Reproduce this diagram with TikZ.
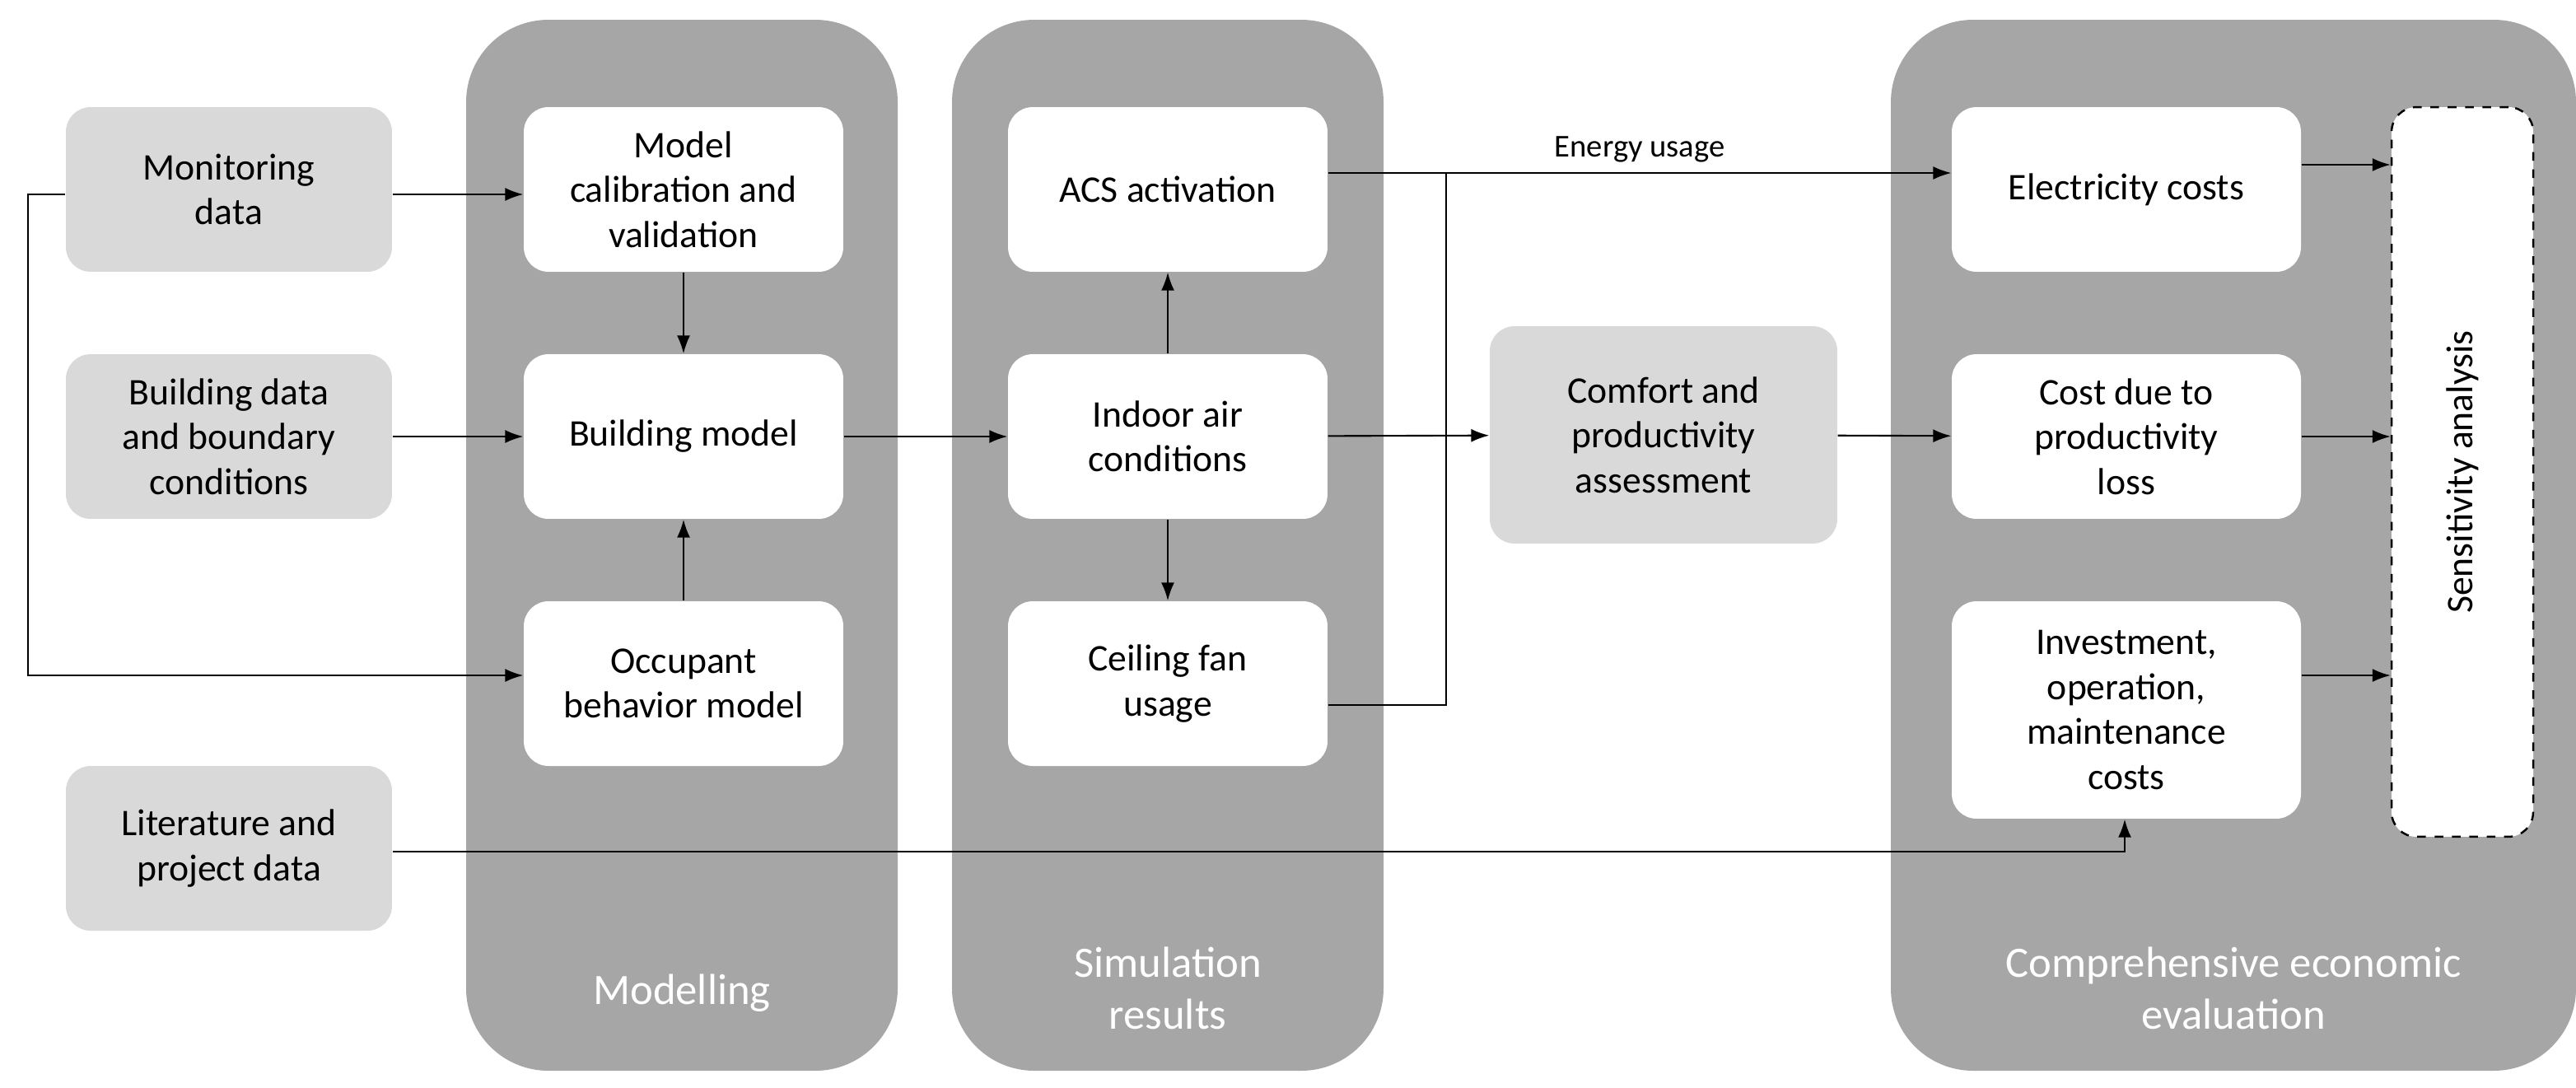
\documentclass[tikz,border=0pt]{standalone}
\usepackage{fontspec}
\setmainfont{Carlito}
\usetikzlibrary{arrows.meta}
\definecolor{lg}{HTML}{D9D9D9}
\definecolor{dg}{HTML}{A6A6A6}
\begin{document}
\begin{tikzpicture}[x=0.02cm,y=-0.02cm,
 col/.style={fill=dg,draw=none,rounded corners=1cm},
 inb/.style={fill=lg,rounded corners=0.3cm,align=center,font=\fontsize{13}{15.5}\selectfont},
 wb/.style={fill=white,rounded corners=0.3cm,align=center,font=\fontsize{13}{15.5}\selectfont},
 lab/.style={text=white,align=center,font=\fontsize{15}{18}\selectfont},
 ar/.style={-{Latex[length=2.2mm,width=1.6mm]},line width=0.6pt}]
\useasboundingbox (0,0) rectangle (1564,660);
\fill[col] (283,12) rectangle (545,650);
\fill[col] (578,12) rectangle (840,650);
\fill[col] (1148,12) rectangle (1564,650);
\node[lab] at (414,603) {Modelling};
\node[lab] at (709,600) {Simulation\\results};
\node[lab] at (1356,600) {Comprehensive economic\\evaluation};
\newcommand{\bx}[6]{\node[#1,minimum width=#4*0.02cm-0.02cm,minimum height=#5*0.02cm] (#6) at (#2,#3) {};}
% inputs
\node[inb,minimum width=3.96cm,minimum height=2cm] (mon) at (139,115) {Monitoring\\data};
\node[inb,minimum width=3.96cm,minimum height=2cm] (bd) at (139,265) {Building data\\and boundary\\conditions};
\node[inb,minimum width=3.96cm,minimum height=2cm] (lit) at (139,515) {Literature and\\project data};
% modelling
\node[wb,minimum width=3.88cm,minimum height=2cm] (cal) at (415,115) {Model\\calibration and\\validation};
\node[wb,minimum width=3.88cm,minimum height=2cm] (bm) at (415,265) {Building model};
\node[wb,minimum width=3.88cm,minimum height=2cm] (occ) at (415,415) {Occupant\\behavior model};
% sim
\node[wb,minimum width=3.88cm,minimum height=2cm] (acs) at (709,115) {ACS activation};
\node[wb,minimum width=3.88cm,minimum height=2cm] (ind) at (709,265) {Indoor air\\conditions};
\node[wb,minimum width=3.88cm,minimum height=2cm] (fan) at (709,415) {Ceiling fan\\usage};
% comfort
\node[inb,minimum width=4.22cm,minimum height=2.64cm] (com) at (1010,264) {Comfort and\\productivity\\assessment};
% econ
\node[wb,minimum width=4.24cm,minimum height=2cm] (ele) at (1291,115) {Electricity costs};
\node[wb,minimum width=4.24cm,minimum height=2cm] (pro) at (1291,265) {Cost due to\\productivity\\loss};
\node[wb,minimum width=4.24cm,minimum height=2.64cm] (inv) at (1291,431) {Investment,\\operation,\\maintenance\\costs};
\node[fill=white,draw,dashed,line width=0.7pt,rounded corners=0.3cm,minimum width=1.72cm,minimum height=8.86cm] (sen) at (1495,286.5) {};
\node[rotate=90,font=\fontsize{13}{15.5}\selectfont] at (sen.center) {Sensitivity analysis};
% arrows
\coordinate (l1) at (17,118); \coordinate (l2) at (17,410);
\draw[ar] (mon.east|-0,118) -- (cal.west|-0,118);
\draw[ar] (mon.west|-0,118) -- (l1) -- (l2) -- (occ.west|-0,410);
\draw[ar] (bd) -- (bm);
\draw[ar] (cal) -- (bm);
\draw[ar] (occ) -- (bm);
\draw[ar] (bm) -- (ind);
\draw[ar] (ind) -- (acs);
\draw[ar] (ind) -- (fan);
\draw[ar] (ind) -- (com);
\draw[ar] (com) -- (pro);
\draw[ar] (acs.east|-0,105) -- node[above,pos=0.5,xshift=0cm,font=\fontsize{11}{13}\selectfont]{Energy usage} (ele.west|-0,105);
\coordinate (f1) at (878,428); \coordinate (f2) at (878,105);
\draw[line width=0.6pt] (fan.east|-0,428) -- (f1) -- (f2);
\draw[ar] (ele.east|-0,100) -- (sen.west|-0,100);
\draw[ar] (pro.east|-0,265) -- (sen.west|-0,265);
\draw[ar] (inv.east|-0,410) -- (sen.west|-0,410);
\coordinate (t1) at (1290,517);
\draw[ar] (lit.east|-0,517) -- (t1) -- (inv.south-|t1);
\end{tikzpicture}
\end{document}
